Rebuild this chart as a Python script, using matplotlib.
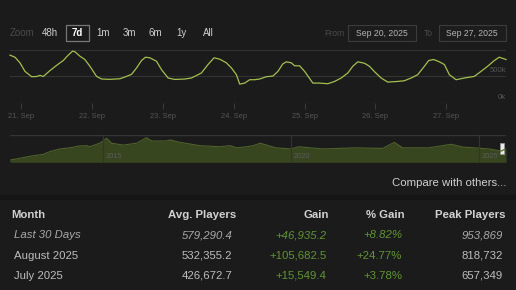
import matplotlib as mpl
mpl.use('agg')
import matplotlib.pyplot as plt
from matplotlib.patches import Rectangle
import numpy as np

plt.rcParams['font.family'] = ['Liberation Sans', 'DejaVu Sans']

# last 7 days, player count (day of September, thousands)
days = [20.845, 20.915, 20.986, 21.056, 21.151, 21.221, 21.268, 21.314, 21.408, 21.503,
        21.596, 21.666, 21.728, 21.761, 21.831, 21.901, 21.972, 22.066, 22.137, 22.254,
        22.394, 22.465, 22.559, 22.630, 22.700, 22.756, 22.817, 22.911, 22.982, 23.075,
        23.169, 23.310, 23.404, 23.545, 23.638, 23.723, 23.803, 23.897, 23.968, 24.038,
        24.085, 24.155, 24.225, 24.296, 24.366, 24.461, 24.554, 24.624, 24.694, 24.742,
        24.813, 24.859, 24.930, 25.000, 25.117, 25.211, 25.328, 25.423, 25.517, 25.610,
        25.680, 25.751, 25.845, 25.915, 25.986, 26.080, 26.173, 26.314, 26.408, 26.503,
        26.596, 26.690, 26.751, 26.821, 26.901, 26.972, 27.042, 27.137, 27.254, 27.394,
        27.489, 27.582, 27.676, 27.746, 27.841]
players_k = [898, 860, 755, 596, 496, 500, 521, 500, 609, 709,
             798, 898, 974, 962, 879, 817, 691, 502, 453, 447,
             458, 490, 540, 660, 798, 860, 849, 785, 628, 472,
             445, 453, 472, 566, 723, 849, 823, 755, 660, 534,
             358, 377, 440, 440, 453, 496, 509, 596, 736, 774,
             755, 700, 700, 596, 377, 377, 365, 408, 472, 566,
             691, 774, 747, 691, 590, 472, 396, 408, 421, 472,
             534, 691, 798, 817, 774, 723, 534, 440, 472, 502,
             596, 691, 798, 860, 817]

# full history for the navigator (year, relative level)
hist_years = [2012.53, 2013.15, 2013.41, 2013.59, 2013.86, 2014.12, 2014.39, 2014.57, 2014.65, 2014.92,
              2015.10, 2015.23, 2015.54, 2015.90, 2016.16, 2016.30, 2016.69, 2016.78, 2017.05, 2017.58,
              2018.11, 2018.38, 2018.56, 2018.82, 2019.00, 2019.18, 2019.60, 2020.00, 2020.21, 2020.84,
              2021.73, 2022.44, 2022.75, 2022.97, 2023.67, 2024.26, 2024.57, 2025.27, 2025.59, 2025.72]
hist_level = [0.08, 0.24, 0.29, 0.39, 0.49, 0.53, 0.60, 0.61, 0.57, 0.70,
              0.88, 0.70, 0.63, 0.70, 0.90, 0.78, 0.78, 0.82, 0.73, 0.61,
              0.57, 0.61, 0.53, 0.57, 0.61, 0.70, 0.53, 0.49, 0.57, 0.49,
              0.53, 0.51, 0.73, 0.53, 0.53, 0.66, 0.56, 0.49, 0.41, 0.50]
hist_year_ticks = [2015, 2020, 2025]

zoom_buttons = ['48h', '7d', '1m', '3m', '6m', '1y', 'All']
date_from = 'Sep 20, 2025'
date_to = 'Sep 27, 2025'

headers = ['Month', 'Avg. Players', 'Gain', '% Gain', 'Peak Players']
months = ['Last 30 Days', 'August 2025', 'July 2025']
avg_players = ['579,290.4', '532,355.2', '426,672.7']
gains = ['+46,935.2', '+105,682.5', '+15,549.4']
pct_gains = ['+8.82%', '+24.77%', '+3.78%']
peaks = ['953,869', '818,732', '657,349']

BG = '#1b1b1b'
W, H = 516, 290


def fx(x):
    return x / W


def fy(y):
    return 1 - y / H


fig = plt.figure(figsize=(5.16, 2.9), dpi=100, facecolor=BG)

# toolbar
fig.text(fx(10), fy(33), 'Zoom', color='#4a4a4a', fontsize=7, va='center')
btn_x = [50, 77, 103.5, 129, 155, 181, 208]
for lab, x in zip(zoom_buttons, btn_x):
    fig.text(fx(x), fy(33), lab, color='#ffffff' if lab == '7d' else '#cfcfcf',
             fontsize=7, ha='center', va='center',
             fontweight='bold' if lab == '7d' else 'normal')
fig.patches.append(Rectangle((fx(65.5), fy(41)), fx(23), 16 / H, transform=fig.transFigure,
                             fill=False, edgecolor='#777777', linewidth=0.9))
fig.text(fx(324), fy(33), 'From', color='#4a4a4a', fontsize=6.2, va='center')
fig.text(fx(424), fy(33), 'To', color='#4a4a4a', fontsize=6.2, va='center')
for x0, x1, lab in [(348, 415.5, date_from), (438.5, 505.5, date_to)]:
    fig.patches.append(Rectangle((fx(x0), fy(41)), fx(x1 - x0), 15.5 / H, transform=fig.transFigure,
                                 facecolor='#1d1d1d', edgecolor='#3c3c3c', linewidth=0.8))
    fig.text(fx((x0 + x1) / 2), fy(33), lab, color='#b5b5b5', fontsize=6.2, ha='center', va='center')

# main chart
ax = fig.add_axes([fx(10), fy(103.3), fx(496), 53.6 / H])
ax.set_facecolor(BG)
ax.plot(days, np.array(players_k) * 1000, color='#a3bf4e', linewidth=0.9, clip_on=False)
ax.set_xlim(days[0], days[-1])
ax.set_ylim(0, 1.0e6)
ax.set_yticks([0, 5e5, 1e6])
ax.yaxis.grid(True, color='#333333', linewidth=0.8)
ax.tick_params(axis='y', left=False, labelleft=False)
ax.set_xticks(range(21, 28))
ax.set_xticklabels([f'{d}. Sep' for d in range(21, 28)])
ax.tick_params(axis='x', direction='out', length=4, width=0.8, color='#3a3a3a',
               labelcolor='#555555', labelsize=5.4, pad=3)
for s in ax.spines.values():
    s.set_visible(False)
for val, lab in [(5e5, '500k'), (0, '0k')]:
    ax.annotate(lab, xy=(1, val), xycoords=('axes fraction', 'data'), xytext=(0, 2),
                textcoords='offset points', ha='right', va='bottom', color='#555555', fontsize=5.6)

# navigator
nav = fig.add_axes([fx(10), fy(162.3), fx(496), 27.3 / H])
nav.set_facecolor(BG)
nav.fill_between(hist_years, hist_level, 0, color='#37461f', linewidth=0)
nav.plot(hist_years, hist_level, color='#4f612b', linewidth=0.8)
nav.set_xlim(hist_years[0], hist_years[-1])
nav.set_ylim(0, 1)
nav.set_xticks([])
nav.set_yticks([])
for s in nav.spines.values():
    s.set_visible(False)
nav.axhline(1, color='#353535', linewidth=1)
for yr in hist_year_ticks:
    nav.axvline(yr, color='#333333', linewidth=0.8)
    nav.annotate(str(yr), xy=(yr, 0.2), xytext=(2, 0), textcoords='offset points',
                 color='#5a5a5a', fontsize=5.4, va='center')
nav.add_patch(Rectangle((0.987, 0.3), 0.008, 0.4, transform=nav.transAxes,
                        facecolor='#e8e8e8', edgecolor='#999999', linewidth=0.5, clip_on=False))

fig.text(fx(506), fy(183.5), 'Compare with others...', color='#d0d0d0', fontsize=8.2,
         ha='right', va='center')

# table
fig.patches.append(Rectangle((0, fy(200)), 1, 5 / H, transform=fig.transFigure,
                             facecolor='#151515', edgecolor='none'))
head_x = [11, 236, 328.5, 405, 505.5]
head_ha = ['left', 'right', 'right', 'right', 'right']
for lab, x, ha in zip(headers, head_x, head_ha):
    fig.text(fx(x), fy(215), lab, color='#d2d2d2', fontsize=8.2, fontweight='bold',
             ha=ha, va='center')
row_y = [235.5, 256, 276]
for i, y in enumerate(row_y):
    style = 'italic' if i == 0 else 'normal'
    main_col = '#a8a8a8' if i == 0 else '#bdbdbd'
    fig.text(fx(14), fy(y), months[i], color=main_col, fontsize=8.2, style=style, va='center')
    fig.text(fx(232.5), fy(y), avg_players[i], color=main_col, fontsize=8.2, style=style,
             ha='right', va='center')
    fig.text(fx(326.5), fy(y), gains[i], color='#5f9434', fontsize=8.2, style=style,
             ha='right', va='center')
    fig.text(fx(402), fy(y), pct_gains[i], color='#5f9434', fontsize=8.2, style=style,
             ha='right', va='center')
    fig.text(fx(502.5), fy(y), peaks[i], color=main_col, fontsize=8.2, style=style,
             ha='right', va='center')

plt.savefig('out.png', dpi=100, facecolor=BG)
